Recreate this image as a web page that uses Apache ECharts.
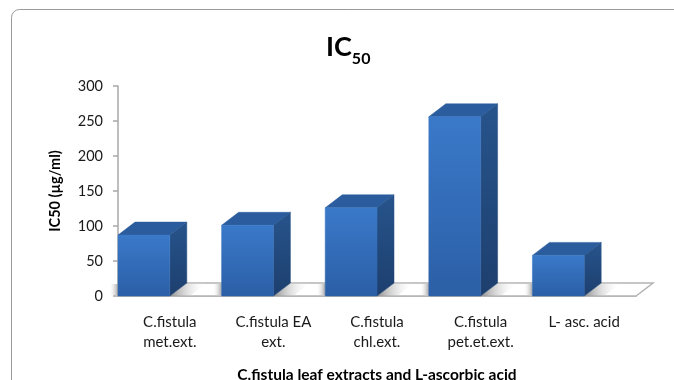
<!DOCTYPE html>
<html>
<head>
<meta charset="utf-8">
<style>
  html, body { margin: 0; padding: 0; background: #fff; }
  #chart { width: 674px; height: 380px; }
</style>
<script src="https://cdn.jsdelivr.net/npm/echarts@6/dist/echarts.min.js"></script>
</head>
<body>
<div id="chart"></div>
<script>
const categories = ['C.fistula\nmet.ext.', 'C.fistula EA\next.', 'C.fistula\nchl.ext.', 'C.fistula\npet.et.ext.', 'L- asc. acid']
const values = [87, 101, 126, 256, 58]
const yTicks = [0, 50, 100, 150, 200, 250, 300]

const FONT = 'Lato'
const DEPTH_X = 17
const DEPTH_Y = 13
const BAR_RATIO = 0.5

const vGrad = (a, b) => new echarts.graphic.LinearGradient(0, 0, 0, 1, [
  { offset: 0, color: a },
  { offset: 1, color: b }
])
const hGrad = (a, b) => new echarts.graphic.LinearGradient(0, 0, 1, 0, [
  { offset: 0, color: a },
  { offset: 1, color: b }
])

const poly = (points, style) => ({ type: 'polygon', shape: { points }, style })

const renderBar = (params, api) => {
  const top = api.coord([api.value(0), api.value(1)])
  const base = api.coord([api.value(0), 0])
  const w = api.size([1, 0])[0] * BAR_RATIO
  // 3D offset: the front face ends at the category centre, like the Excel chart
  const r = base[0]
  const l = r - w
  const y0 = top[1]
  const y1 = base[1]
  const yb = y1 - DEPTH_Y
  const side = vGrad('#27548c', '#1d3f6e')
  const front = vGrad('#3a79c9', '#2b5fa6')
  return {
    type: 'group',
    children: [
      // soft shadows on the floor either side of the bar
      poly([[r, y1], [r + DEPTH_X, yb], [r + DEPTH_X + 20, yb], [r + 20, y1]], { fill: hGrad('#8f8f8f', 'rgba(255,255,255,0)') }),
      poly([[l - 9, y1 - 1], [l, y1 - 1], [l, yb + 1], [l - 9, yb + 1]], { fill: hGrad('rgba(255,255,255,0)', '#a6a6a6') }),
      poly([[l, y0], [r, y0], [r + DEPTH_X, y0 - DEPTH_Y], [l + DEPTH_X, y0 - DEPTH_Y]], { fill: '#2b5d9e', stroke: '#2b5d9e', lineWidth: 0.5 }),
      poly([[r, y0], [r + DEPTH_X, y0 - DEPTH_Y], [r + DEPTH_X, yb], [r, y1]], { fill: side, stroke: side, lineWidth: 0.5 }),
      poly([[l, y0], [r, y0], [r, y1], [l, y1]], { fill: front, stroke: front, lineWidth: 0.5 })
    ]
  }
}

const renderFloor = (params, api) => {
  const c = params.coordSys
  const y1 = c.y + c.height
  const y0 = y1 - DEPTH_Y
  const x0 = c.x
  const x1 = c.x + c.width
  return poly([[x0, y1], [x1, y1], [x1 + DEPTH_X, y0], [x0 + DEPTH_X, y0]], {
    fill: '#fff',
    stroke: '#b4b4b4',
    lineWidth: 1.5
  })
}

const chart = echarts.init(document.getElementById('chart'), null, { renderer: 'canvas' })
chart.setOption({
  animation: false,
  backgroundColor: '#fff',
  textStyle: { fontFamily: FONT },
  title: {
    left: 321,
    top: 22,
    text: '{a|IC}{b|50}',
    textStyle: {
      rich: {
        a: { fontFamily: FONT, fontWeight: 'bold', fontSize: 27, color: '#000' },
        b: { fontFamily: FONT, fontWeight: 'bold', fontSize: 16, color: '#000', verticalAlign: 'bottom', padding: [24, 0, 0, 0] }
      }
    }
  },
  graphic: [
    {
      type: 'rect',
      silent: true,
      z: -1,
      shape: { x: 11.5, y: 9.5, width: 720, height: 420, r: 8 },
      style: { fill: '#fff', stroke: '#9a9a9a', lineWidth: 1 }
    }
  ],
  grid: { left: 118, top: 86, width: 518, height: 210, outerBoundsMode: 'none' },
  xAxis: {
    type: 'category',
    data: categories,
    axisTick: { show: false },
    axisLine: { lineStyle: { color: '#a8a8a8', width: 1.5 } },
    axisLabel: { color: '#1a1a1a', fontSize: 15, fontFamily: FONT, lineHeight: 20, margin: 16, interval: 0 },
    name: 'C.fistula leaf extracts and L-ascorbic acid',
    nameLocation: 'middle',
    nameGap: 71,
    nameTextStyle: { color: '#000', fontSize: 15.5, fontWeight: 'bold', fontFamily: FONT }
  },
  yAxis: {
    type: 'value',
    min: yTicks[0],
    max: yTicks[yTicks.length - 1],
    interval: yTicks[1] - yTicks[0],
    splitLine: { show: false },
    axisLine: { show: true, lineStyle: { color: '#a8a8a8', width: 1.5 } },
    axisTick: { show: true, length: 5, lineStyle: { color: '#a8a8a8', width: 1.5 } },
    axisLabel: { color: '#1a1a1a', fontSize: 14.5, fontFamily: FONT, margin: 15 },
    name: 'IC50 (µg/ml)',
    nameLocation: 'middle',
    nameGap: 55,
    nameTextStyle: { color: '#000', fontSize: 14.5, fontWeight: 'bold', fontFamily: FONT }
  },
  series: [
    { type: 'custom', renderItem: renderFloor, data: [[0]], z: 1, silent: true },
    {
      type: 'custom',
      renderItem: renderBar,
      data: values.map((v, i) => [i, v]),
      encode: { x: 0, y: 1 },
      z: 2
    }
  ]
})
</script>
</body>
</html>
